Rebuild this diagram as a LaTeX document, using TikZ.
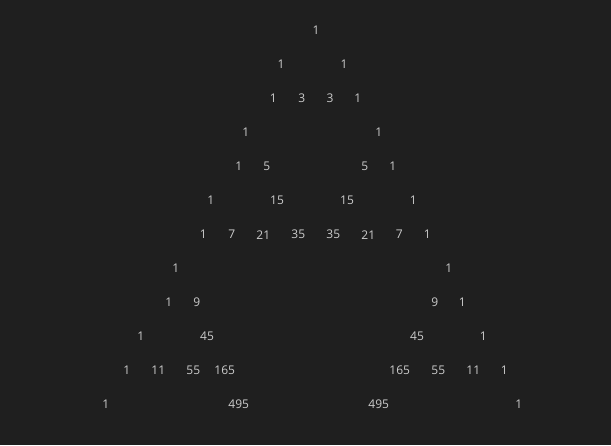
\documentclass[tikz,border=0pt]{standalone}
\usepackage{fontspec}
\setmainfont{Open Sans}
\definecolor{bg}{HTML}{1F1F1F}
\definecolor{fg}{HTML}{CCCCCC}
\tikzset{num/.style={text=fg, inner sep=0pt, font=\fontsize{12}{14}\selectfont}}
\begin{document}
\begin{tikzpicture}[x=1pt,y=-1pt]
\fill[bg] (0,0) rectangle (611,445);
\useasboundingbox (0,0) rectangle (611,445);
% row 0
\node[num] (r0a) at (316,30.7) {1};
% row 1
\node[num] (r1a) at (281,64.7) {1};
\node[num] (r1b) at (344,64.7) {1};
% row 2
\node[num] (r2a) at (273.3,98.7) {1};
\node[num] (r2b) at (301.7,98.7) {3};
\node[num] (r2c) at (330,98.7) {3};
\node[num] (r2d) at (357.7,98.7) {1};
% row 3
\node[num] (r3a) at (245.7,132.7) {1};
\node[num] (r3b) at (378.7,132.7) {1};
% row 4
\node[num] (r4a) at (238.7,166.7) {1};
\node[num] (r4b) at (266.7,166.7) {5};
\node[num] (r4c) at (364.7,166.7) {5};
\node[num] (r4d) at (392.7,166.7) {1};
% row 5
\node[num] (r5a) at (210.7,200.7) {1};
\node[num] (r5b) at (277,200.7) {15};
\node[num] (r5c) at (347,200.7) {15};
\node[num] (r5d) at (413.3,200.7) {1};
% row 6
\node[num] (r6a) at (203.3,234.7) {1};
\node[num] (r6b) at (231.7,234.7) {7};
\node[num] (r6c) at (263.3,234.7) {21};
\node[num] (r6d) at (298.3,234.7) {35};
\node[num] (r6e) at (333.3,234.7) {35};
\node[num] (r6f) at (368.3,234.7) {21};
\node[num] (r6g) at (399.3,234.7) {7};
\node[num] (r6h) at (427.3,234.7) {1};
% row 7
\node[num] (r7a) at (175.7,268.7) {1};
\node[num] (r7b) at (448.7,268.7) {1};
% row 8
\node[num] (r8a) at (168.7,302.7) {1};
\node[num] (r8b) at (196.7,302.7) {9};
\node[num] (r8c) at (434.7,302.7) {9};
\node[num] (r8d) at (462.3,302.7) {1};
% row 9
\node[num] (r9a) at (140.7,336.7) {1};
\node[num] (r9b) at (207,336.7) {45};
\node[num] (r9c) at (417,336.7) {45};
\node[num] (r9d) at (483.3,336.7) {1};
% row 10
\node[num] (r10a) at (126.7,370.7) {1};
\node[num] (r10b) at (158.3,370.7) {11};
\node[num] (r10c) at (193.3,370.7) {55};
\node[num] (r10d) at (224.7,370.7) {165};
\node[num] (r10e) at (399.7,370.7) {165};
\node[num] (r10f) at (438.3,370.7) {55};
\node[num] (r10g) at (473.3,370.7) {11};
\node[num] (r10h) at (504.3,370.7) {1};
% row 11
\node[num] (r11a) at (105.7,404.7) {1};
\node[num] (r11b) at (238.7,404.7) {495};
\node[num] (r11c) at (378.7,404.7) {495};
\node[num] (r11d) at (518.7,404.7) {1};
\end{tikzpicture}
\end{document}
